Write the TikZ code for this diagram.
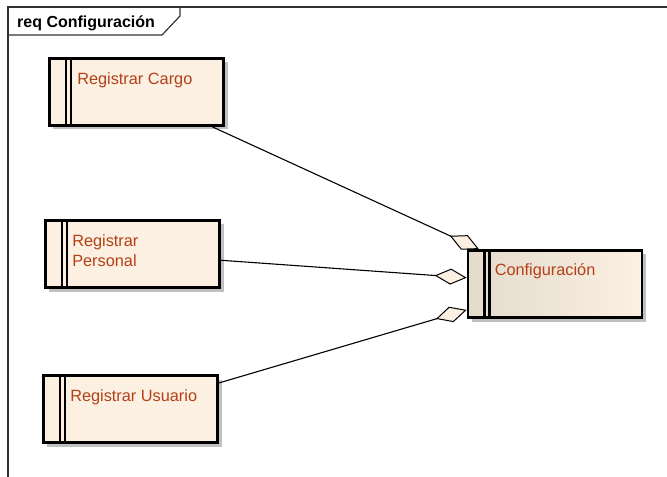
\documentclass[tikz,border=0pt]{standalone}
\usepackage{fontspec}
\setmainfont{Liberation Sans}
\usetikzlibrary{arrows.meta,shadows,calc}

\definecolor{reqfill}{RGB}{251,240,225}
\definecolor{reqfillL}{RGB}{228,219,204}
\definecolor{reqfillM}{RGB}{242,233,219}
\definecolor{reqtext}{RGB}{180,64,24}
\definecolor{shadowgray}{RGB}{192,192,192}
\definecolor{framegray}{RGB}{50,50,50}

\tikzset{
  reqbox/.style={draw=black, line width=2.8bp, fill=reqfill,
    minimum width=174bp, minimum height=67bp, inner sep=0pt,
    drop shadow={shadow xshift=4bp, shadow yshift=-4bp, fill=shadowgray, opacity=1},
    path picture={
      \foreach \dx in {16.5bp,21.5bp}
        \draw[line width=2.1bp]
          ([xshift=\dx]path picture bounding box.north west) --
          ([xshift=\dx]path picture bounding box.south west);
    }},
  reqlabel/.style={anchor=north west, inner sep=0pt, text=reqtext,
    font=\fontsize{16.3bp}{20bp}\selectfont, align=left},
  aggr/.style={line width=1.1bp,
    -{Diamond[length=32bp, width=16bp, fill=reqfill, line width=1bp]}},
  framestyle/.style={draw=framegray, line width=1.2bp},
}

\begin{document}
\begin{tikzpicture}[x=1bp, y=-1bp]
  \useasboundingbox (0,0) rectangle (667,477);

  % diagram frame with its name tab
  \draw[framestyle] (8,477) -- (8,7) -- (667,7);
  \draw[framestyle] (8,35) -- (162,35) -- (180,16) -- (180,7);
  \node[anchor=base west, inner sep=0pt, font=\fontsize{16bp}{20bp}\selectfont\bfseries]
    (title) at (17,28) {req Configuración};

  % requirements
  \node[reqbox] (cargo)    at (136.5,92) {};
  \node[reqbox] (personal) at (132.5,254) {};
  \node[reqbox] (usuario)  at (130.5,409) {};
  \node[reqbox, left color=reqfillL, middle color=reqfillM, right color=reqfill] (config) at (555,284) {};

  \node[reqlabel] (cargoT)    at ($(cargo.north west)+(29,15)$) {Registrar Cargo};
  \node[reqlabel] (personalT) at ($(personal.north west)+(28,15.5)$) {Registrar\\Personal};
  \node[reqlabel] (usuarioT)  at ($(usuario.north west)+(28,15.5)$) {Registrar Usuario};
  \node[reqlabel] (configT)   at ($(config.north west)+(28,14.5)$) {Configuración};

  % aggregation connectors
  \draw[aggr] (cargo) -- (config);
  \draw[aggr] (personal) -- (config);
  \draw[aggr] (usuario) -- (config);
\end{tikzpicture}
\end{document}
